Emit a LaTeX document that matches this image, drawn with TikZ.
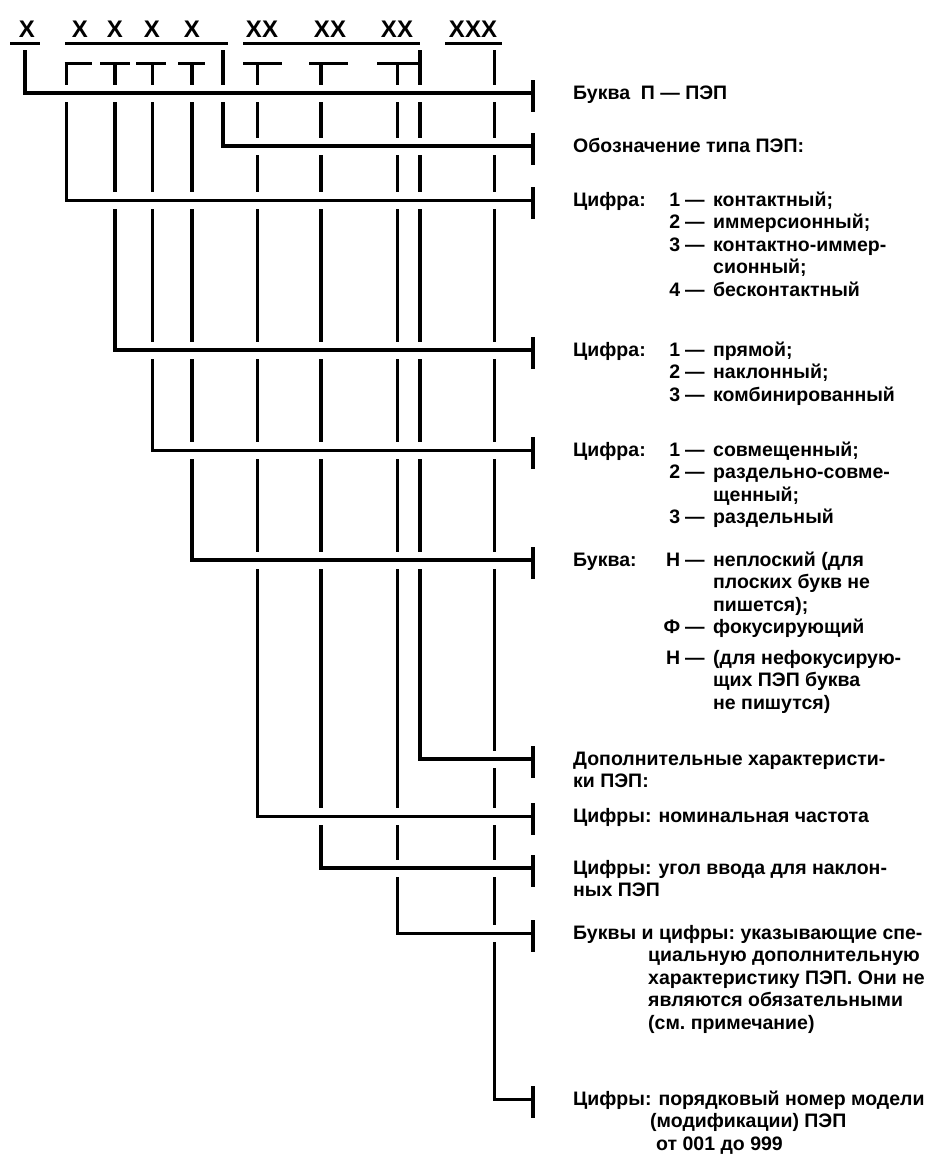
\documentclass[tikz,border=0pt]{standalone}
\usepackage{fontspec}
\setmainfont{Liberation Sans}
\frenchspacing
\newcommand\numitem[2]{\makebox[45pt][l]{\makebox[12pt][r]{#1}\hspace{5pt}—}#2}
\newcommand\contline[1]{\hspace*{140pt}#1}
\newcommand\subline[2]{\hspace*{95pt}\numitem{#1}{#2}}
\newcommand\lblA[1]{\makebox[95pt][l]{#1}}
\newcommand\lblB[1]{#1\hspace{7pt}}
\tikzset{
  gapper/.style={white, line width=17pt},
  tickmark/.style={line width=3.2pt},
  ulined/.style={line width=3pt},
  dashseg/.style={line width=3pt},
  lbl/.style={anchor=base west, inner sep=0pt, font=\fontsize{19.5}{22.5}\selectfont\bfseries\frenchspacing},
  hdr/.style={anchor=base, inner sep=0pt, font=\fontsize{24}{26}\selectfont\bfseries},
}
\begin{document}
\begin{tikzpicture}[x=1pt,y=-1pt]
\useasboundingbox[fill=white] (0,0) rectangle (945,1157);
% header
\node[hdr] (h1) at (27,37) {X};
\node[hdr] (h2) at (80,37) {X};
\node[hdr] (h3) at (115,37) {X};
\node[hdr] (h4) at (152,37) {X};
\node[hdr] (h5) at (192,37) {X};
\node[hdr] (h6) at (262,37) {XX};
\node[hdr] (h7) at (330,37) {XX};
\node[hdr] (h8) at (397,37) {XX};
\node[hdr] (h9) at (473,37) {XXX};
\draw[ulined] (10,43) -- (40,43);
\draw[ulined] (65,43) -- (228,43);
\draw[ulined] (243,43) -- (420,43);
\draw[ulined] (445,43) -- (502,43);
% dashes
\foreach \a/\b in {64.5/92,100/130,136/166,178/205,243/282,309/348,377/420}
  \draw[dashseg] (\a,63) -- (\b,63);
% connectors
\def\conns{1/25/50/93/4.3, 2/223/50/146/3.3, 3/66/63/200/3, 4/115/63/350/4.3, 5/152/63/450/3, 6/192/63/560/3.4, 7/420/50/759/4.3, 8/257/63/816/3, 9/321/63/868/4.3, 10/397/63/933/3, 11/494/50/1099/3}
\foreach \i/\x/\yt/\yh/\w in \conns {
  \coordinate (s\i) at (\x,\yt);
  \coordinate (c\i) at (\x,\yh);
  \coordinate (k\i) at (533,\yh);
}
\foreach \i/\x/\yt/\yh/\w in \conns
  \draw[line width=\w pt, line join=miter] (s\i) |- (k\i);
\foreach \i/\x/\yt/\yh/\w in \conns
  \draw[gapper] ([xshift=3pt]c\i) -- ([xshift=-4pt]k\i);
\foreach \i/\x/\yt/\yh/\w in \conns {
  \draw[line width=\w pt] (c\i) -- (k\i);
  \draw[tickmark] ([yshift=13pt]k\i) -- ([yshift=-19pt]k\i);
}
% labels
\node[lbl] (L1) at (573,99) {Буква\ \ П — ПЭП};
\node[lbl] (L2) at (573,152) {Обозначение типа ПЭП:};
\node[lbl] (L3) at (573,206) {\begin{tabular}[t]{@{}l@{}}
\lblA{Цифра:}\numitem{1}{контактный;}\\
\subline{2}{иммерсионный;}\\
\subline{3}{контактно-иммер-}\\
\contline{сионный;}\\
\subline{4}{бесконтактный}
\end{tabular}};
\node[lbl] (L4) at (573,356) {\begin{tabular}[t]{@{}l@{}}
\lblA{Цифра:}\numitem{1}{прямой;}\\
\subline{2}{наклонный;}\\
\subline{3}{комбинированный}
\end{tabular}};
\node[lbl] (L5) at (573,456) {\begin{tabular}[t]{@{}l@{}}
\lblA{Цифра:}\numitem{1}{совмещенный;}\\
\subline{2}{раздельно-совме-}\\
\contline{щенный;}\\
\subline{3}{раздельный}
\end{tabular}};
\node[lbl] (L6) at (573,566) {\begin{tabular}[t]{@{}l@{}}
\lblA{Буква:}\numitem{Н}{неплоский (для}\\
\contline{плоских букв не}\\
\contline{пишется);}\\
\subline{Ф}{фокусирующий}\\[8pt]
\subline{Н}{(для нефокусирую-}\\
\contline{щих ПЭП буква}\\
\contline{не пишутся)}
\end{tabular}};
\node[lbl] (L7) at (573,765) {\begin{tabular}[t]{@{}l@{}}
Дополнительные характеристи-\\
ки ПЭП:
\end{tabular}};
\node[lbl] (L8) at (573,822) {\lblB{Цифры:}номинальная частота};
\node[lbl] (L9) at (573,874) {\begin{tabular}[t]{@{}l@{}}
\lblB{Цифры:}угол ввода для наклон-\\
ных ПЭП
\end{tabular}};
\node[lbl] (L10) at (573,939) {\begin{tabular}[t]{@{}l@{}}
Буквы и цифры: указывающие спе-\\
\hspace*{75pt}циальную дополнительную\\
\hspace*{75pt}характеристику ПЭП. Они не\\
\hspace*{75pt}являются обязательными\\
\hspace*{75pt}(см. примечание)
\end{tabular}};
\node[lbl] (L11) at (573,1105) {\begin{tabular}[t]{@{}l@{}}
\lblB{Цифры:}порядковый номер модели\\
\hspace*{77pt}(модификации) ПЭП\\
\hspace*{83pt}от 001 до 999
\end{tabular}};
\end{tikzpicture}
\end{document}
